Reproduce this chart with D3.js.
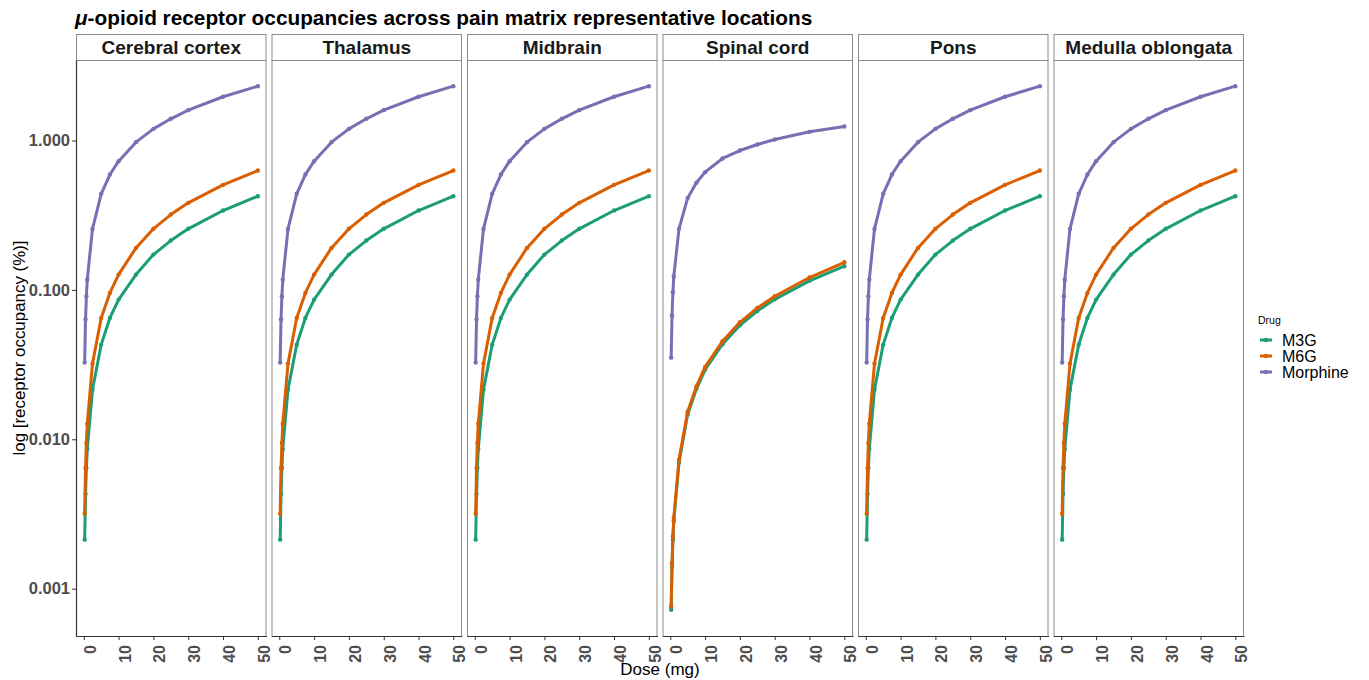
<!DOCTYPE html>
<html>
<head>
<meta charset="utf-8">
<script src="https://cdn.jsdelivr.net/npm/d3@7"></script>
<style>
  body { margin: 0; background: #fff; }
  svg { font-family: "Liberation Sans", Arial, Helvetica, sans-serif; }
</style>
</head>
<body>
<div id="chart"></div>
<script>
// doses (mg) at which occupancy was simulated
const doses = [0.25, 0.5, 0.75, 1, 2.5, 5, 7.5, 10, 15, 20, 25, 30, 40, 50];

const regions = ['Cerebral cortex', 'Thalamus', 'Midbrain', 'Spinal cord', 'Pons', 'Medulla oblongata'];
const drugs = ['M3G', 'M6G', 'Morphine'];

// brain regions (all five look the same)
const brainM3G = [0.00213, 0.0043, 0.00643, 0.0086, 0.0215, 0.043, 0.0649, 0.0861, 0.1266, 0.1723, 0.2139, 0.2564, 0.3398, 0.4236];
const brainM6G = [0.00318, 0.00643, 0.00944, 0.0127, 0.0321, 0.0649, 0.0955, 0.1266, 0.191, 0.2564, 0.3194, 0.3826, 0.505, 0.6295];
const brainMorphine = [0.0326, 0.0633, 0.0906, 0.117, 0.256, 0.44, 0.592, 0.727, 0.975, 1.197, 1.397, 1.596, 1.963, 2.31];

// spinal cord
const spinalM3G = [0.000722, 0.00141, 0.00213, 0.00283, 0.0070, 0.0147, 0.0217, 0.0292, 0.0433, 0.058, 0.0722, 0.0865, 0.115, 0.144];
const spinalM6G = [0.00076, 0.00148, 0.00224, 0.00297, 0.0073, 0.01537, 0.0226, 0.0305, 0.0453, 0.0607, 0.0757, 0.0906, 0.121, 0.153];
const spinalMorphine = [0.0352, 0.0673, 0.0964, 0.123, 0.2563, 0.413, 0.521, 0.614, 0.758, 0.857, 0.94, 1.016, 1.143, 1.241];

const xTicks = [0, 10, 20, 30, 40, 50];
const yTicks = [0.001, 0.01, 0.1, 1];

const colors = { M3G: '#1b9e77', M6G: '#d95f02', Morphine: '#7570b3' };

const seriesFor = region => region === 'Spinal cord'
  ? { M3G: spinalM3G, M6G: spinalM6G, Morphine: spinalMorphine }
  : { M3G: brainM3G, M6G: brainM6G, Morphine: brainMorphine };

const W = 1369, H = 680;
const plotLeft = 76, plotTop = 60, plotBottom = 636, stripTop = 34;
const panelW = 190.5, gap = 5;

const svg = d3.select('#chart').append('svg')
  .attr('width', W).attr('height', H);

// scales with ggplot-style 5% expansion
const xExt = d3.extent(doses);
const xPad = (xExt[1] - xExt[0]) * 0.05;
const x = d3.scaleLinear().domain([xExt[0] - xPad, xExt[1] + xPad]).range([0, panelW]);

const allVals = [brainM3G, brainM6G, brainMorphine, spinalM3G, spinalM6G, spinalMorphine].flat();
const lo = Math.log10(d3.min(allVals)), hi = Math.log10(d3.max(allVals));
const yPad = (hi - lo) * 0.05;
const y = d3.scaleLog().domain([10 ** (lo - yPad), 10 ** (hi + yPad)]).range([plotBottom, plotTop]);

svg.append('text')
  .attr('x', 75).attr('y', 25)
  .attr('font-size', 20.8).attr('font-weight', 'bold').attr('fill', '#000')
  .call(t => {
    t.append('tspan').attr('font-style', 'italic').text('μ');
    t.append('tspan').text('-opioid receptor occupancies across pain matrix representative locations');
  });

const line = d3.line().x(d => x(d[0])).y(d => y(d[1]));

regions.forEach((region, i) => {
  const g = svg.append('g').attr('transform', `translate(${plotLeft + i * (panelW + gap)},0)`);

  // strip
  g.append('rect')
    .attr('x', 0.5).attr('y', stripTop + 0.5)
    .attr('width', panelW - 1).attr('height', plotTop - stripTop)
    .attr('fill', '#fff').attr('stroke', '#8c8c8c');
  g.append('text')
    .attr('x', panelW / 2).attr('y', plotTop - 6)
    .attr('text-anchor', 'middle')
    .attr('font-size', 19).attr('font-weight', 'bold').attr('fill', '#1a1a1a')
    .text(region);

  // panel border
  g.append('rect')
    .attr('x', 0.5).attr('y', plotTop + 0.5)
    .attr('width', panelW - 1).attr('height', plotBottom - plotTop)
    .attr('fill', 'none').attr('stroke', '#8c8c8c');

  // x axis
  const xa = g.append('g').attr('transform', `translate(0,${plotBottom})`)
    .call(d3.axisBottom(x).tickValues(xTicks).tickSize(4).tickSizeOuter(0).tickFormat(d3.format('d')));
  xa.select('.domain').attr('stroke', '#333').attr('stroke-width', 1.2);
  xa.selectAll('.tick line').attr('stroke', '#333');
  xa.selectAll('.tick text')
    .attr('transform', 'translate(11.5,9) rotate(-90)')
    .attr('x', 0).attr('y', 0).attr('dy', 0)
    .attr('text-anchor', 'end')
    .attr('font-size', 16).attr('font-weight', 'bold')
    .attr('font-family', '"Liberation Sans", Arial, sans-serif')
    .attr('fill', '#4d4d4d');

  if (i === 0) {
    const ya = g.append('g')
      .call(d3.axisLeft(y).tickValues(yTicks).tickSize(4).tickSizeOuter(0).tickFormat(d3.format('.3f')));
    ya.select('.domain').attr('stroke', '#333').attr('stroke-width', 1.2);
    ya.selectAll('.tick line').attr('stroke', '#333');
    ya.selectAll('.tick text')
      .attr('x', -6)
      .attr('font-size', 16.5).attr('font-weight', 'bold')
      .attr('font-family', '"Liberation Sans", Arial, sans-serif')
      .attr('fill', '#4d4d4d');
  }

  const s = seriesFor(region);
  drugs.forEach(drug => {
    const pts = doses.map((d, k) => [d, s[drug][k]]);
    g.append('path')
      .datum(pts)
      .attr('fill', 'none')
      .attr('stroke', colors[drug])
      .attr('stroke-width', 3)
      .attr('stroke-linejoin', 'round')
      .attr('d', line);
    g.selectAll(null)
      .data(pts)
      .enter()
      .append('circle')
      .attr('cx', d => x(d[0]))
      .attr('cy', d => y(d[1]))
      .attr('r', 2.2)
      .attr('fill', colors[drug]);
  });
});

// axis titles
svg.append('text')
  .attr('x', 660).attr('y', 675)
  .attr('text-anchor', 'middle').attr('font-size', 17).attr('fill', '#000')
  .text('Dose (mg)');
svg.append('text')
  .attr('transform', 'translate(25,348) rotate(-90)')
  .attr('text-anchor', 'middle').attr('font-size', 16.9).attr('fill', '#000')
  .text('log [receptor occupancy (%)]');

// legend
const leg = svg.append('g').attr('transform', 'translate(1258,0)');
leg.append('text').attr('x', 0).attr('y', 324).attr('font-size', 10.5).attr('fill', '#000').text('Drug');
drugs.forEach((drug, k) => {
  const cy = 340 + k * 16;
  leg.append('line')
    .attr('x1', 2).attr('x2', 14).attr('y1', cy).attr('y2', cy)
    .attr('stroke', colors[drug]).attr('stroke-width', 3);
  leg.append('circle').attr('cx', 8).attr('cy', cy).attr('r', 2.2).attr('fill', colors[drug]);
  leg.append('text').attr('x', 24).attr('y', cy + 5.5)
    .attr('font-size', 16).attr('fill', '#000').text(drug);
});
</script>
</body>
</html>
